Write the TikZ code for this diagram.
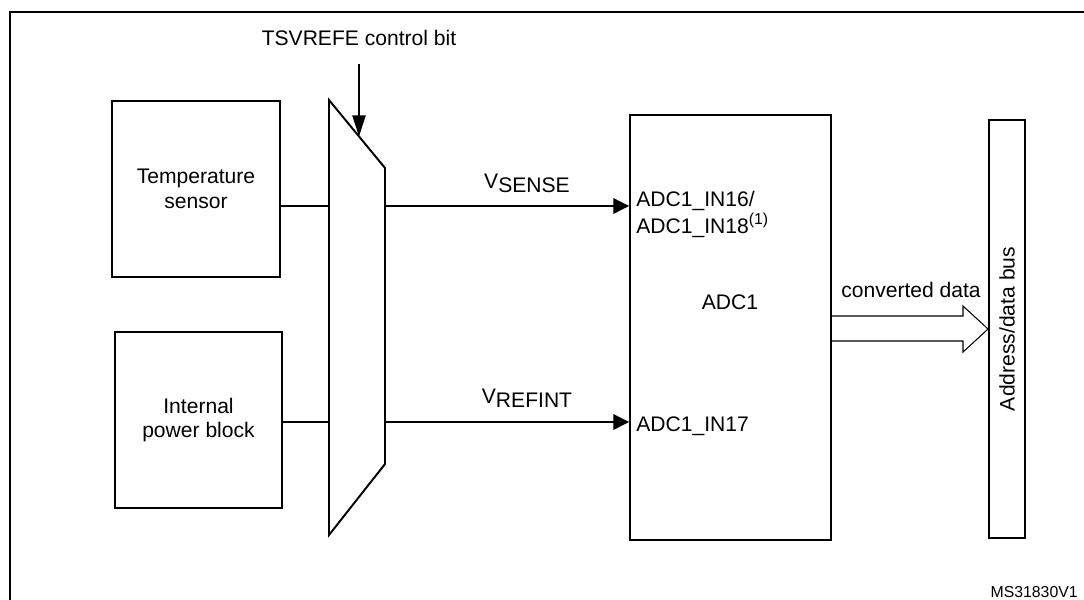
\documentclass[tikz,border=0pt]{standalone}
\usepackage{fontspec}
\setmainfont{Liberation Sans}
\usetikzlibrary{arrows.meta,positioning}
\begin{document}
\begin{tikzpicture}[x=0.02cm, y=-0.02cm,
	font=\fontsize{12}{14}\selectfont,
	blk/.style={draw, line width=1.1pt, align=center, inner sep=0pt},
	wire/.style={line width=0.6pt},
	sig/.style={wire, -{Triangle[length=9pt, width=9pt]}},
	ctl/.style={line width=1pt, -{Triangle[length=12pt, width=7.5pt]}}]
	\clip (0,0) rectangle (1084,599);
	\useasboundingbox (0,0) rectangle (1084,599);
	% frame
	\draw [line width=1.1pt] (10,620) -- (10,12) -- (1100,12);
	% source blocks
	\node[blk, minimum width=3.36cm, minimum height=3.52cm] (temp) at (196,189) {Temperature\\sensor};
	\node[blk, minimum width=3.34cm, minimum height=3.52cm] (pwr) at (198.5,420) {Internal\\power block};
	% multiplexer
	\coordinate (m1) at (329,100);
	\coordinate (m2) at (385,168);
	\coordinate (m3) at (385,464);
	\coordinate (m4) at (329,535);
	\draw [line width=1.1pt, line join=miter] (m1) -- (m2) -- (m3) -- (m4) -- cycle;
	\node (tsv) at (359,38) {TSVREFE control bit};
	\coordinate (ctltop) at (359,64);
	\coordinate (ctlend) at (359,136.5);
	\draw [ctl] (ctltop) -- (ctlend);
	% ADC and bus
	\node[blk, minimum width=4.02cm, minimum height=8.5cm] (adc) at (730.5,327.5) {};
	\node at (730,302) {ADC1};
	\node[blk, minimum width=0.72cm, minimum height=8.36cm] (bus) at (1007,329) {};
	\node[rotate=90] at (bus.center) {Address/data bus};
	% channels
	\coordinate (sin) at (329,206);
	\coordinate (sout) at (385,206);
	\coordinate (rin) at (329,422);
	\coordinate (rout) at (385,422);
	\draw [wire] (temp.east |- sin) -- (sin);
	\draw [sig] (sout) -- (sout -| adc.west);
	\draw [wire] (pwr.east |- rin) -- (rin);
	\draw [sig] (rout) -- (rout -| adc.west);
	\node (vsense) at (527,183) {V\raisebox{-0.35ex}{SENSE}};
	\node (vrefint) at (527,398) {V\raisebox{-0.35ex}{REFINT}};
	\node[anchor=north west, align=left, inner sep=0pt, font=\fontsize{12}{15.2}\selectfont] (in16) at (636,191) {ADC1\_IN16/\\ADC1\_IN18\raisebox{0.8ex}{\small(1)}};
	\node[anchor=west, inner sep=0pt] (in17) at (636,426) {ADC1\_IN17};
	% converted data
	\draw [wire] (adc.east |- 0,316) -- (963,316) -- (963,306) -- (bus.west) -- (963,352) -- (963,341) -- (adc.east |- 0,341);
	\node at (911,290) {converted data};
	\node[anchor=east, inner sep=0pt, font=\fontsize{9}{11}\selectfont] at (1078,592) {MS31830V1};
\end{tikzpicture}
\end{document}
